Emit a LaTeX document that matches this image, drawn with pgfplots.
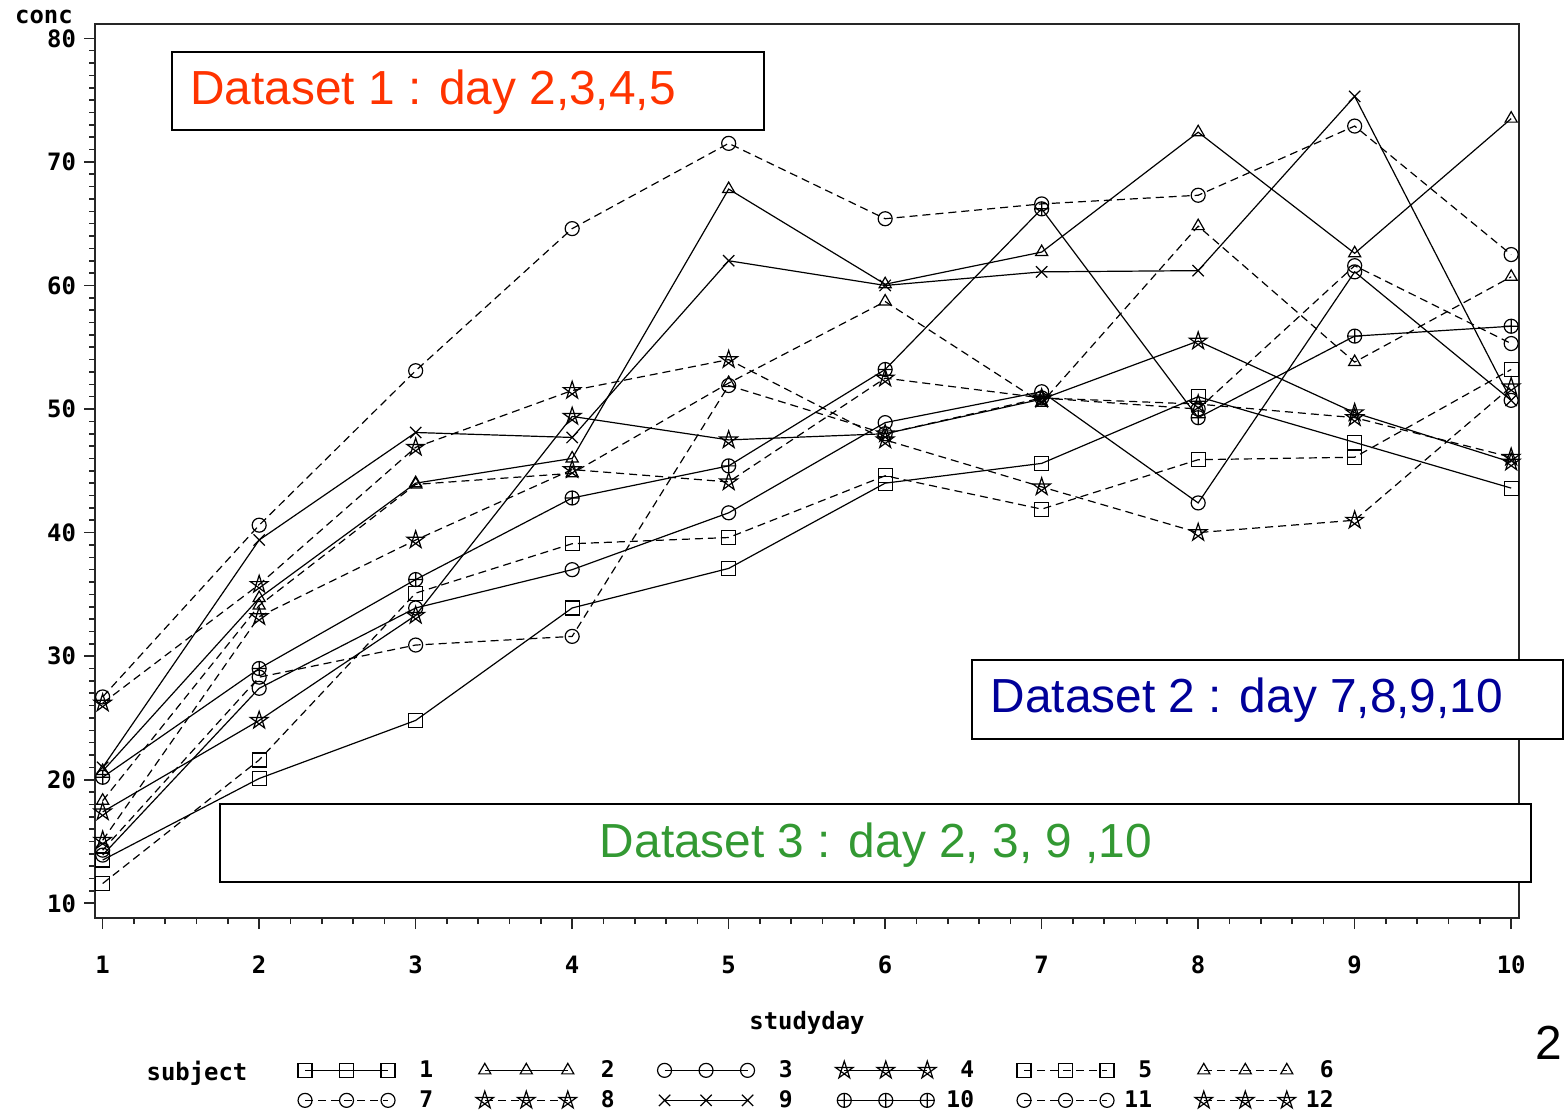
\documentclass[border=0pt]{standalone}
\usepackage{pgfplots}
\pgfplotsset{compat=1.18}
\usepackage{fontspec}
\setmainfont{Liberation Sans}
\newfontfamily\sasfont{DejaVu Sans Mono}
\definecolor{dsred}{RGB}{255,51,0}
\definecolor{dsblue}{RGB}{0,0,153}
\definecolor{dsgreen}{RGB}{51,153,51}
\pgfdeclareplotmark{pstar}{%
  \pgfpathmoveto{\pgfqpointpolar{90}{\pgfplotmarksize}}%
  \pgfpathlineto{\pgfqpointpolar{234}{\pgfplotmarksize}}%
  \pgfpathlineto{\pgfqpointpolar{18}{\pgfplotmarksize}}%
  \pgfpathlineto{\pgfqpointpolar{162}{\pgfplotmarksize}}%
  \pgfpathlineto{\pgfqpointpolar{306}{\pgfplotmarksize}}%
  \pgfpathclose
  \pgfusepathqstroke
}
\newcommand{\lgn}[1]{\makebox[14bp][r]{#1}}
\pgfplotsset{
  subj/.style={black, line width=0.6bp, mark size=3.5bp, mark options={solid, line width=0.6bp}},
  stm/.style={mark=pstar, mark size=4.6bp},
  dsh/.style={dash pattern=on 4bp off 2.5bp},
}
\begin{document}
\begin{tikzpicture}
\begin{axis}[
  scale only axis, width=712bp, height=447bp,
  xmin=0.951, xmax=10.05, ymin=8.81, ymax=81.16,
  xtick={1,...,10}, ytick={10,20,...,80},
  minor x tick num=4, minor y tick num=9,
  xtick pos=bottom, ytick pos=left,
  tick align=outside,
  major tick length=5.5bp, minor tick length=3bp,
  every tick/.style={black!85, line width=0.8bp},
  axis line style={black!85, line width=1bp},
  clip=false,
  /pgf/number format/assume math mode=true,
  ticklabel style={font=\sasfont\bfseries\fontsize{12}{13}\selectfont},
  xticklabel shift=10bp,
  yticklabel shift=0.5bp,
  xlabel={studyday}, ylabel={conc},
  every axis x label/.style={at={(axis description cs:0.5,0)}, anchor=center, yshift=-52.5bp, font=\sasfont\bfseries\fontsize{12}{13}\selectfont},
  every axis y label/.style={at={(axis description cs:0,1)}, anchor=center, xshift=-25.5bp, yshift=3.5bp, rotate=0, font=\sasfont\bfseries\fontsize{12}{13}\selectfont},
  legend columns=6,
  legend cell align=right,
  legend style={draw=none, fill=none, inner sep=0pt, outer sep=0pt,
    at={(rel axis cs:0.1426,-0.157)}, anchor=north west,
    font=\sasfont\bfseries\fontsize{11.5}{13}\selectfont,
    nodes={inner sep=1bp}, row sep=3bp,
    /tikz/every odd column/.append style={column sep=4bp},
    /tikz/every even column/.append style={column sep=20.5bp}},
  legend image code/.code={\draw[mark repeat=1,mark phase=1,#1] plot coordinates {(0bp,0bp) (20.75bp,0bp) (41.5bp,0bp)};},
]
\addplot[subj, mark=square] coordinates {(1,13.5) (2,20.1) (3,24.8) (4,33.9) (5,37.1) (6,44.0) (7,45.6) (8,51.0) (9,47.3) (10,43.6)};
\addlegendentry{\lgn{1}}
\addplot[subj, mark=triangle] coordinates {(1,20.7) (2,34.7) (3,44.0) (4,46.0) (5,67.8) (6,60.1) (7,62.7) (8,72.4) (9,62.6) (10,73.5)};
\addlegendentry{\lgn{2}}
\addplot[subj, mark=o] coordinates {(1,13.9) (2,27.4) (3,33.9) (4,37.0) (5,41.6) (6,48.9) (7,51.4) (8,42.4) (9,61.1) (10,50.7)};
\addlegendentry{\lgn{3}}
\addplot[subj, stm] coordinates {(1,17.4) (2,24.8) (3,33.3) (4,49.4) (5,47.5) (6,48.0) (7,50.8) (8,55.5) (9,49.7) (10,45.7)};
\addlegendentry{\lgn{4}}
\addplot[subj, dsh, mark=square] coordinates {(1,11.6) (2,21.6) (3,35.1) (4,39.1) (5,39.6) (6,44.6) (7,41.9) (8,45.9) (9,46.1) (10,53.2)};
\addlegendentry{\lgn{5}}
\addplot[subj, dsh, mark=triangle] coordinates {(1,18.3) (2,34.1) (3,43.9) (4,44.8) (5,52.1) (6,58.7) (7,50.5) (8,64.8) (9,53.8) (10,60.7)};
\addlegendentry{\lgn{6}}
\addplot[subj, dsh, mark=o] coordinates {(1,26.7) (2,40.6) (3,53.1) (4,64.6) (5,71.5) (6,65.4) (7,66.6) (8,67.3) (9,72.9) (10,62.5)};
\addlegendentry{\lgn{7}}
\addplot[subj, dsh, stm] coordinates {(1,26.2) (2,35.8) (3,46.9) (4,51.5) (5,54.0) (6,47.5) (7,43.7) (8,40.0) (9,41.0) (10,51.8)};
\addlegendentry{\lgn{8}}
\addplot[subj, mark=x, mark size=4bp] coordinates {(1,21.0) (2,39.4) (3,48.1) (4,47.7) (5,62.0) (6,60.0) (7,61.1) (8,61.2) (9,75.3) (10,50.7)};
\addlegendentry{\lgn{9}}
\addplot[subj, mark=oplus] coordinates {(1,20.2) (2,29.0) (3,36.2) (4,42.8) (5,45.4) (6,53.2) (7,66.2) (8,49.3) (9,55.9) (10,56.7)};
\addlegendentry{\lgn{10}}
\addplot[subj, dsh, mark=o] coordinates {(1,14.3) (2,28.3) (3,30.9) (4,31.6) (5,51.9) (6,48.0) (7,50.9) (8,50.0) (9,61.6) (10,55.3)};
\addlegendentry{\lgn{11}}
\addplot[subj, dsh, stm] coordinates {(1,15.1) (2,33.2) (3,39.4) (4,45.1) (5,44.1) (6,52.5) (7,50.9) (8,50.4) (9,49.3) (10,46.1)};
\addlegendentry{\lgn{12}}
\coordinate (tl) at (rel axis cs:0,1);
\end{axis}
\coordinate (O) at ([xshift=-47.5bp,yshift=12bp]tl);
\begin{scope}[shift={(O)}, x=0.5bp, y=-0.5bp]
  \draw[line width=1bp, fill=white] (172,52) rectangle (764,130);
  \node[text=dsred, font=\fontsize{24}{28}\selectfont] at (433,92) {Dataset 1 : day 2,3,4,5};
  \draw[line width=1bp, fill=white] (972,660) rectangle (1563,739);
  \node[text=dsblue, font=\fontsize{24}{28}\selectfont] at (1247,700) {Dataset 2 : day 7,8,9,10};
  \draw[line width=1bp, fill=white] (220,804) rectangle (1531,882);
  \node[text=dsgreen, font=\fontsize{24}{28}\selectfont] at (876,845) {Dataset 3 : day 2, 3, 9 ,10};
  \node[font=\sasfont\bfseries\fontsize{12}{13}\selectfont] at (197,1073) {subject};
  \node[anchor=east, inner sep=0pt, font=\fontsize{24}{28}\selectfont] at (1563,1043) {2};
\end{scope}
\pgfresetboundingbox
\path (O) rectangle ++(782bp,-555.5bp);
\end{tikzpicture}
\end{document}
